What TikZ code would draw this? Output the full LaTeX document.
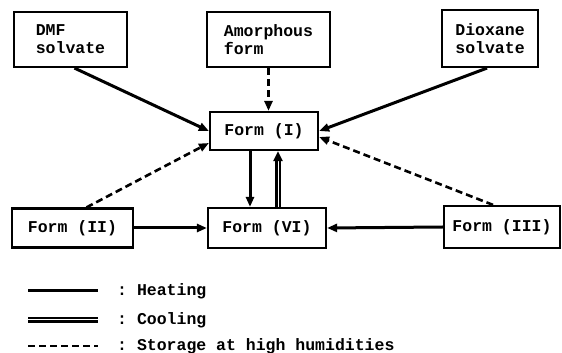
\documentclass[tikz,border=0pt]{standalone}
\usepackage{fontspec}
\setmonofont{Liberation Mono}
\usetikzlibrary{positioning,calc,arrows.meta}

\begin{document}
\begin{tikzpicture}[
    x=1pt, y=1pt,
    font=\fontsize{16.5}{18}\selectfont\ttfamily\bfseries,
    box/.style={draw, line width=2.2pt, align=left, inner sep=0pt},
    tip/.style={-{Triangle[length=10pt, width=8pt]}},
    heat/.style={tip, line width=3pt},
    cool/.style={-{Triangle[length=10pt, width=9pt]}, double, line width=2.2pt,
                 double distance=1pt},
    humid/.style={tip, line width=2.6pt, dash pattern=on 7pt off 4pt},
    lgd/.style={anchor=west, inner sep=0pt},
  ]
  \useasboundingbox (0,0) rectangle (562,353);

  % ---------------------------------------------------------------
  % Starting materials (top row)
  % ---------------------------------------------------------------
  \node[box, minimum width=113, minimum height=55] (dmf) at (70.5,313.5)
    {DMF\\solvate};
  \node[box, minimum width=123, minimum height=55] (amo) at (268.5,313.5)
    {Amorphous\\form};
  \node[box, minimum width=96, minimum height=57] (dio) at (490,314.5)
    {Dioxane\\solvate};

  % ---------------------------------------------------------------
  % Polymorphs
  % ---------------------------------------------------------------
  \node[box, minimum width=108, minimum height=38] (fI) at (264,222) {Form (I)};
  \node[box, minimum width=118, minimum height=40] (fVI) at (267,125) {Form (VI)};
  \node[box, minimum width=121, minimum height=39] (fII) at (72.5,125) {Form (II)};
  \node[box, minimum width=116, minimum height=42] (fIII) at (502,126) {Form (III)};

  % transitions into form (I)
  \draw[heat] ($(dmf.south)+(4,0)$) -- (fI.west);
  \draw[heat] ($(dio.south)+(-3,0)$) -- (fI.east);
  \draw[humid] (amo.south) -- (amo.south |- fI.north);
  \draw[humid] ($(fII.north)+(14,0)$) -- ($(fI.west)+(0,-12)$);
  \draw[humid] ($(fIII.north)+(-9,0)$) -- ($(fI.east)+(0,-6)$);

  % form (I) <-> form (VI)
  \coordinate (dnT) at ($(fI.south)+(-14,0)$);
  \coordinate (upT) at ($(fI.south)+(14,0)$);
  \draw[heat] (dnT) -- (dnT |- fVI.north);
  \draw[cool] (upT |- fVI.north) -- (upT);

  % into form (VI)
  \draw[heat] (fII.east) -- (fVI.west);
  \draw[heat] (fIII.west) -- (fVI.east);

  % ---------------------------------------------------------------
  % Legend
  % ---------------------------------------------------------------
  \node[lgd] (lh) at (117,62) {: Heating};
  \node[lgd] (lc) at (117,33) {: Cooling};
  \node[lgd] (ls) at (117,7) {: Storage at high humidities};
  \draw[line width=3pt] ($(lh.west)+(-89,0)$) -- ($(lh.west)+(-19,0)$);
  \draw[double, line width=2.2pt, double distance=1pt]
    ($(lc.west)+(-89,0)$) -- ($(lc.west)+(-19,0)$);
  \draw[line width=2.6pt, dash pattern=on 7pt off 4pt]
    ($(ls.west)+(-89,0)$) -- ($(ls.west)+(-19,0)$);
\end{tikzpicture}
\end{document}
